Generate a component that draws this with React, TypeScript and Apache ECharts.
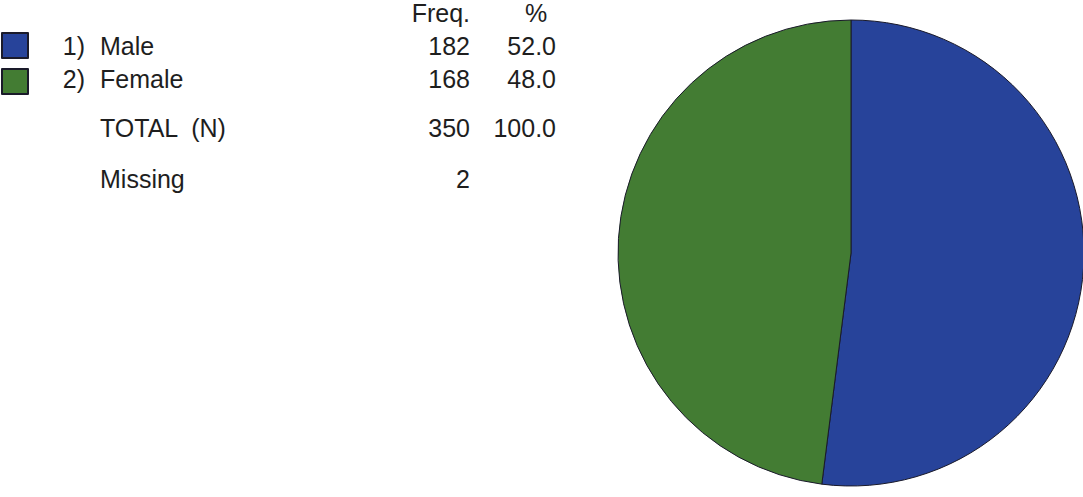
import React, { useEffect, useRef } from "react";
import * as echarts from "echarts";

const categories = ["Male", "Female"];
const codes = ["1)", "2)"];
const freq = [182, 168];
const percent = ["52.0", "48.0"];
const totalN = 350;
const totalPct = "100.0";
const missing = 2;
const colors = ["#27439a", "#437c33"];

const FONT = "'Liberation Sans', Arial, Helvetica, sans-serif";
const FS = 25;
const TXT = "#1e1e1e";

export default function App() {
  const ref = useRef<HTMLDivElement>(null);
  useEffect(() => {
    if (!ref.current) return;
    const chart = echarts.init(ref.current, undefined, { renderer: "svg" });
    const rowY = [45.5, 78.5];
    const texts: any[] = [];
    const t = (x: number, y: number, s: string, align: string) =>
      texts.push({
        type: "text",
        x,
        y,
        style: { text: s, font: `${FS}px ${FONT}`, fill: TXT, align, verticalAlign: "middle" },
      });
    t(470, 13, "Freq.", "right");
    t(536, 13, "%", "center");
    categories.forEach((c, i) => {
      t(85, rowY[i], codes[i], "right");
      t(100, rowY[i], c, "left");
      t(470, rowY[i], String(freq[i]), "right");
      t(556, rowY[i], percent[i], "right");
    });
    t(100, 128, "TOTAL  (N)", "left");
    t(470, 128, String(totalN), "right");
    t(556, 128, totalPct, "right");
    t(100, 179, "Missing", "left");
    t(470, 179, String(missing), "right");

    chart.setOption({
      animation: false,
      color: colors,
      legend: {
        orient: "vertical",
        left: 1,
        top: 32,
        itemWidth: 26,
        itemHeight: 25,
        itemGap: 9,
        padding: 0,
        selectedMode: false,
        icon: "rect",
        data: categories,
        formatter: () => "",
      },
      graphic: texts,
      series: [
        {
          type: "pie",
          center: [851, 253],
          radius: 233,
          startAngle: 90,
          clockwise: true,
          label: { show: false },
          labelLine: { show: false },
          emphasis: { disabled: true },
          itemStyle: { borderColor: "#1a1a2a", borderWidth: 1 },
          data: categories.map((c, i) => ({ name: c, value: freq[i] })),
        },
      ],
    });
    return () => chart.dispose();
  }, []);
  return (
    <div
      ref={ref}
      style={{ position: "fixed", left: 0, top: 0, width: 1083, height: 497, background: "#fff" }}
    />
  );
}
